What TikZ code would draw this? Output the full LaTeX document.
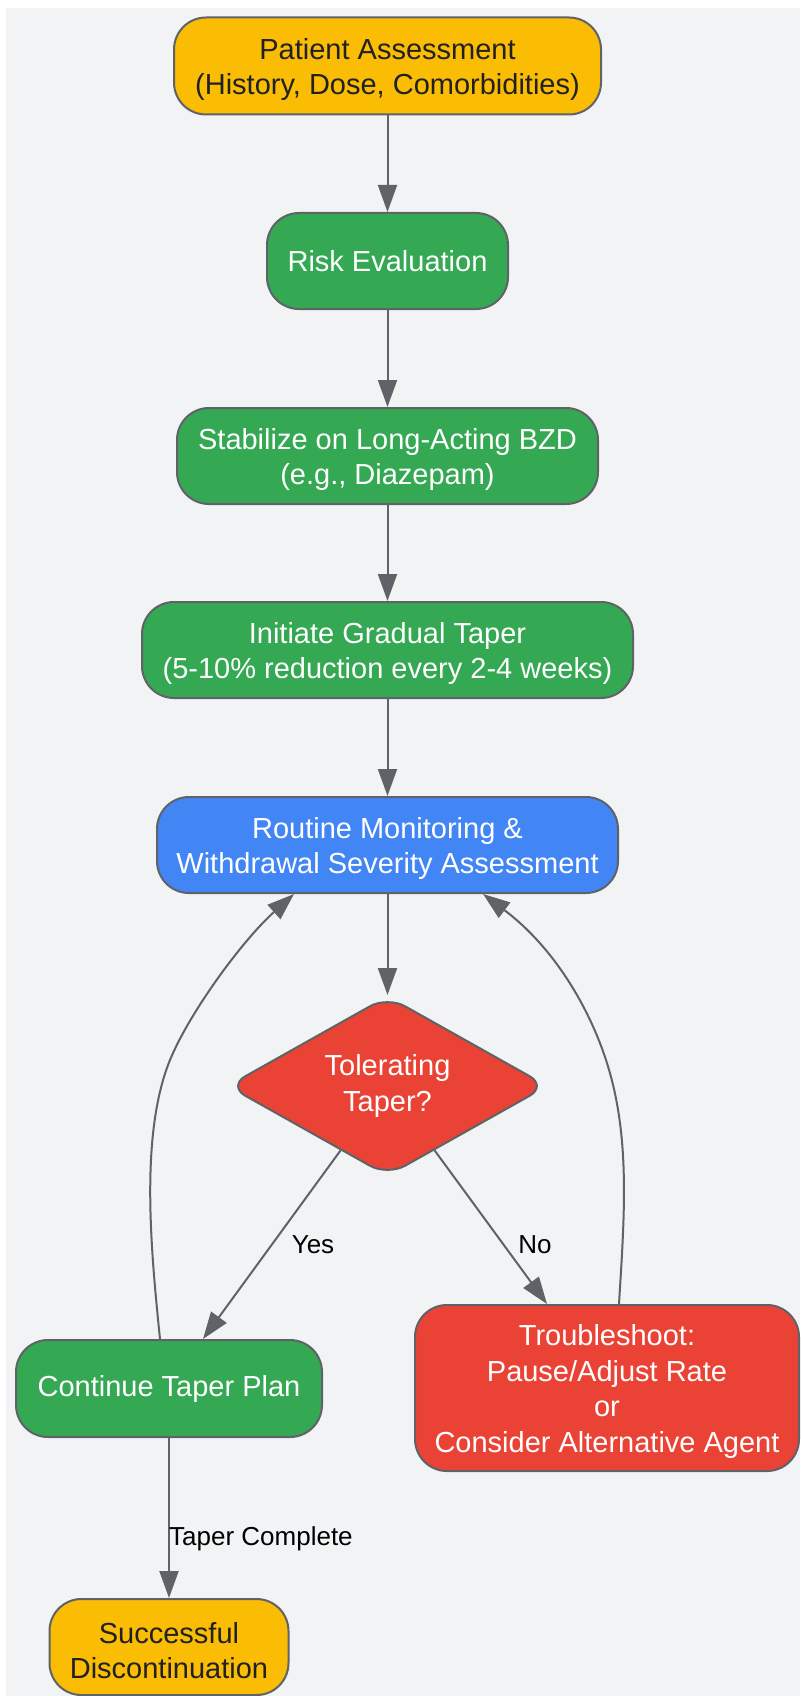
\documentclass[tikz,border=0pt]{standalone}
\usepackage{fontspec}
\setmainfont{Liberation Sans}
\usetikzlibrary{arrows.meta,shapes.geometric,calc}
\definecolor{bgc}{HTML}{F1F3F4}
\definecolor{ylw}{HTML}{FBBC04}
\definecolor{grn}{HTML}{34A853}
\definecolor{blu}{HTML}{4285F4}
\definecolor{rdd}{HTML}{EA4335}
\definecolor{strk}{HTML}{5F6368}
\definecolor{dark}{HTML}{202124}
\newcommand\firstline{\rule{0pt}{28pt}}
\tikzset{
  box/.style={draw=strk, line width=2pt, rounded corners=32pt, align=center, inner sep=0pt,
    font=\fontsize{29}{35.5}\selectfont},
  ybox/.style={box, fill=ylw, text=dark},
  gbox/.style={box, fill=grn, text=white},
  bbox/.style={box, fill=blu, text=white},
  rbox/.style={box, fill=rdd, text=white},
  dia/.style={draw=strk, line width=2pt, diamond, fill=rdd, text=white, rounded corners=20pt,
    inner sep=0pt, aspect=1.8, minimum width=320pt, minimum height=180pt, align=center,
    font=\fontsize{29}{35.5}\selectfont},
  conn/.style={draw=strk, line width=2pt, -{Triangle[length=27pt,width=19pt]}},
  elabel/.style={font=\fontsize{26}{30}\selectfont, text=black, inner sep=0pt}
}
\begin{document}
\begin{tikzpicture}[x=1pt,y=-1pt]
\useasboundingbox (0,0) rectangle (800,1696);
\fill[white] (0,0) rectangle (800,1696);
\fill[bgc] (6,8) rectangle (800,1696);

\node[ybox, minimum width=427pt, minimum height=97pt] (pa) at (387.5,66) {\firstline Patient Assessment\\(History, Dose, Comorbidities)};
\node[gbox, minimum width=241pt, minimum height=96pt] (re) at (387.5,261) {Risk Evaluation};
\node[gbox, minimum width=421pt, minimum height=96pt] (st) at (387.5,456) {\firstline Stabilize on Long-Acting BZD\\(e.g., Diazepam)};
\node[gbox, minimum width=491pt, minimum height=96pt] (it) at (387.5,650) {\firstline Initiate Gradual Taper\\(5-10\% reduction every 2-4 weeks)};
\node[bbox, minimum width=461pt, minimum height=96pt] (rm) at (387.5,845) {\firstline Routine Monitoring \&\\Withdrawal Severity Assessment};
\node[dia] (tt) at (387.5,1086) {Tolerating\\Taper?};
\node[gbox, minimum width=306pt, minimum height=97pt] (ct) at (169,1388.5) {Continue Taper Plan};
\node[rbox, minimum width=384pt, minimum height=166pt] (ts) at (607,1388) {\firstline Troubleshoot:\\Pause/Adjust Rate\\or\\Consider Alternative Agent};
\node[ybox, minimum width=239pt, minimum height=96pt] (sd) at (169,1647) {\firstline Successful\\Discontinuation};

\draw[conn] (pa) -- (re);
\draw[conn] (re) -- (st);
\draw[conn] (st) -- (it);
\draw[conn] (it) -- (rm);
\draw[conn] (rm) -- (tt.north);
\draw[conn] (tt) -- ([xshift=34pt]ct.north);
\draw[conn] (tt) -- ([xshift=-60pt]ts.north);
\draw[conn] ([xshift=-9pt]ct.north) .. controls (151,1250.5) and (139.6,1134.4) .. (170,1060)
  .. controls (189,1013.5) and (241.5,941.2) .. ([xshift=-93.5pt]rm.south);
\draw[conn] ([xshift=12pt]ts.north) .. controls (624.4,1215) and (630.8,1136) .. (606,1060)
  .. controls (589.3,1008.7) and (554.9,948.1) .. ([xshift=95.5pt]rm.south);
\draw[conn] (ct) -- (sd);

\node[elabel] (lyes) at (313,1245) {Yes};
\node[elabel] (lno) at (535,1245) {No};
\node[elabel, anchor=west] (ltc) at (169,1539) {Taper Complete};
\end{tikzpicture}
\end{document}
